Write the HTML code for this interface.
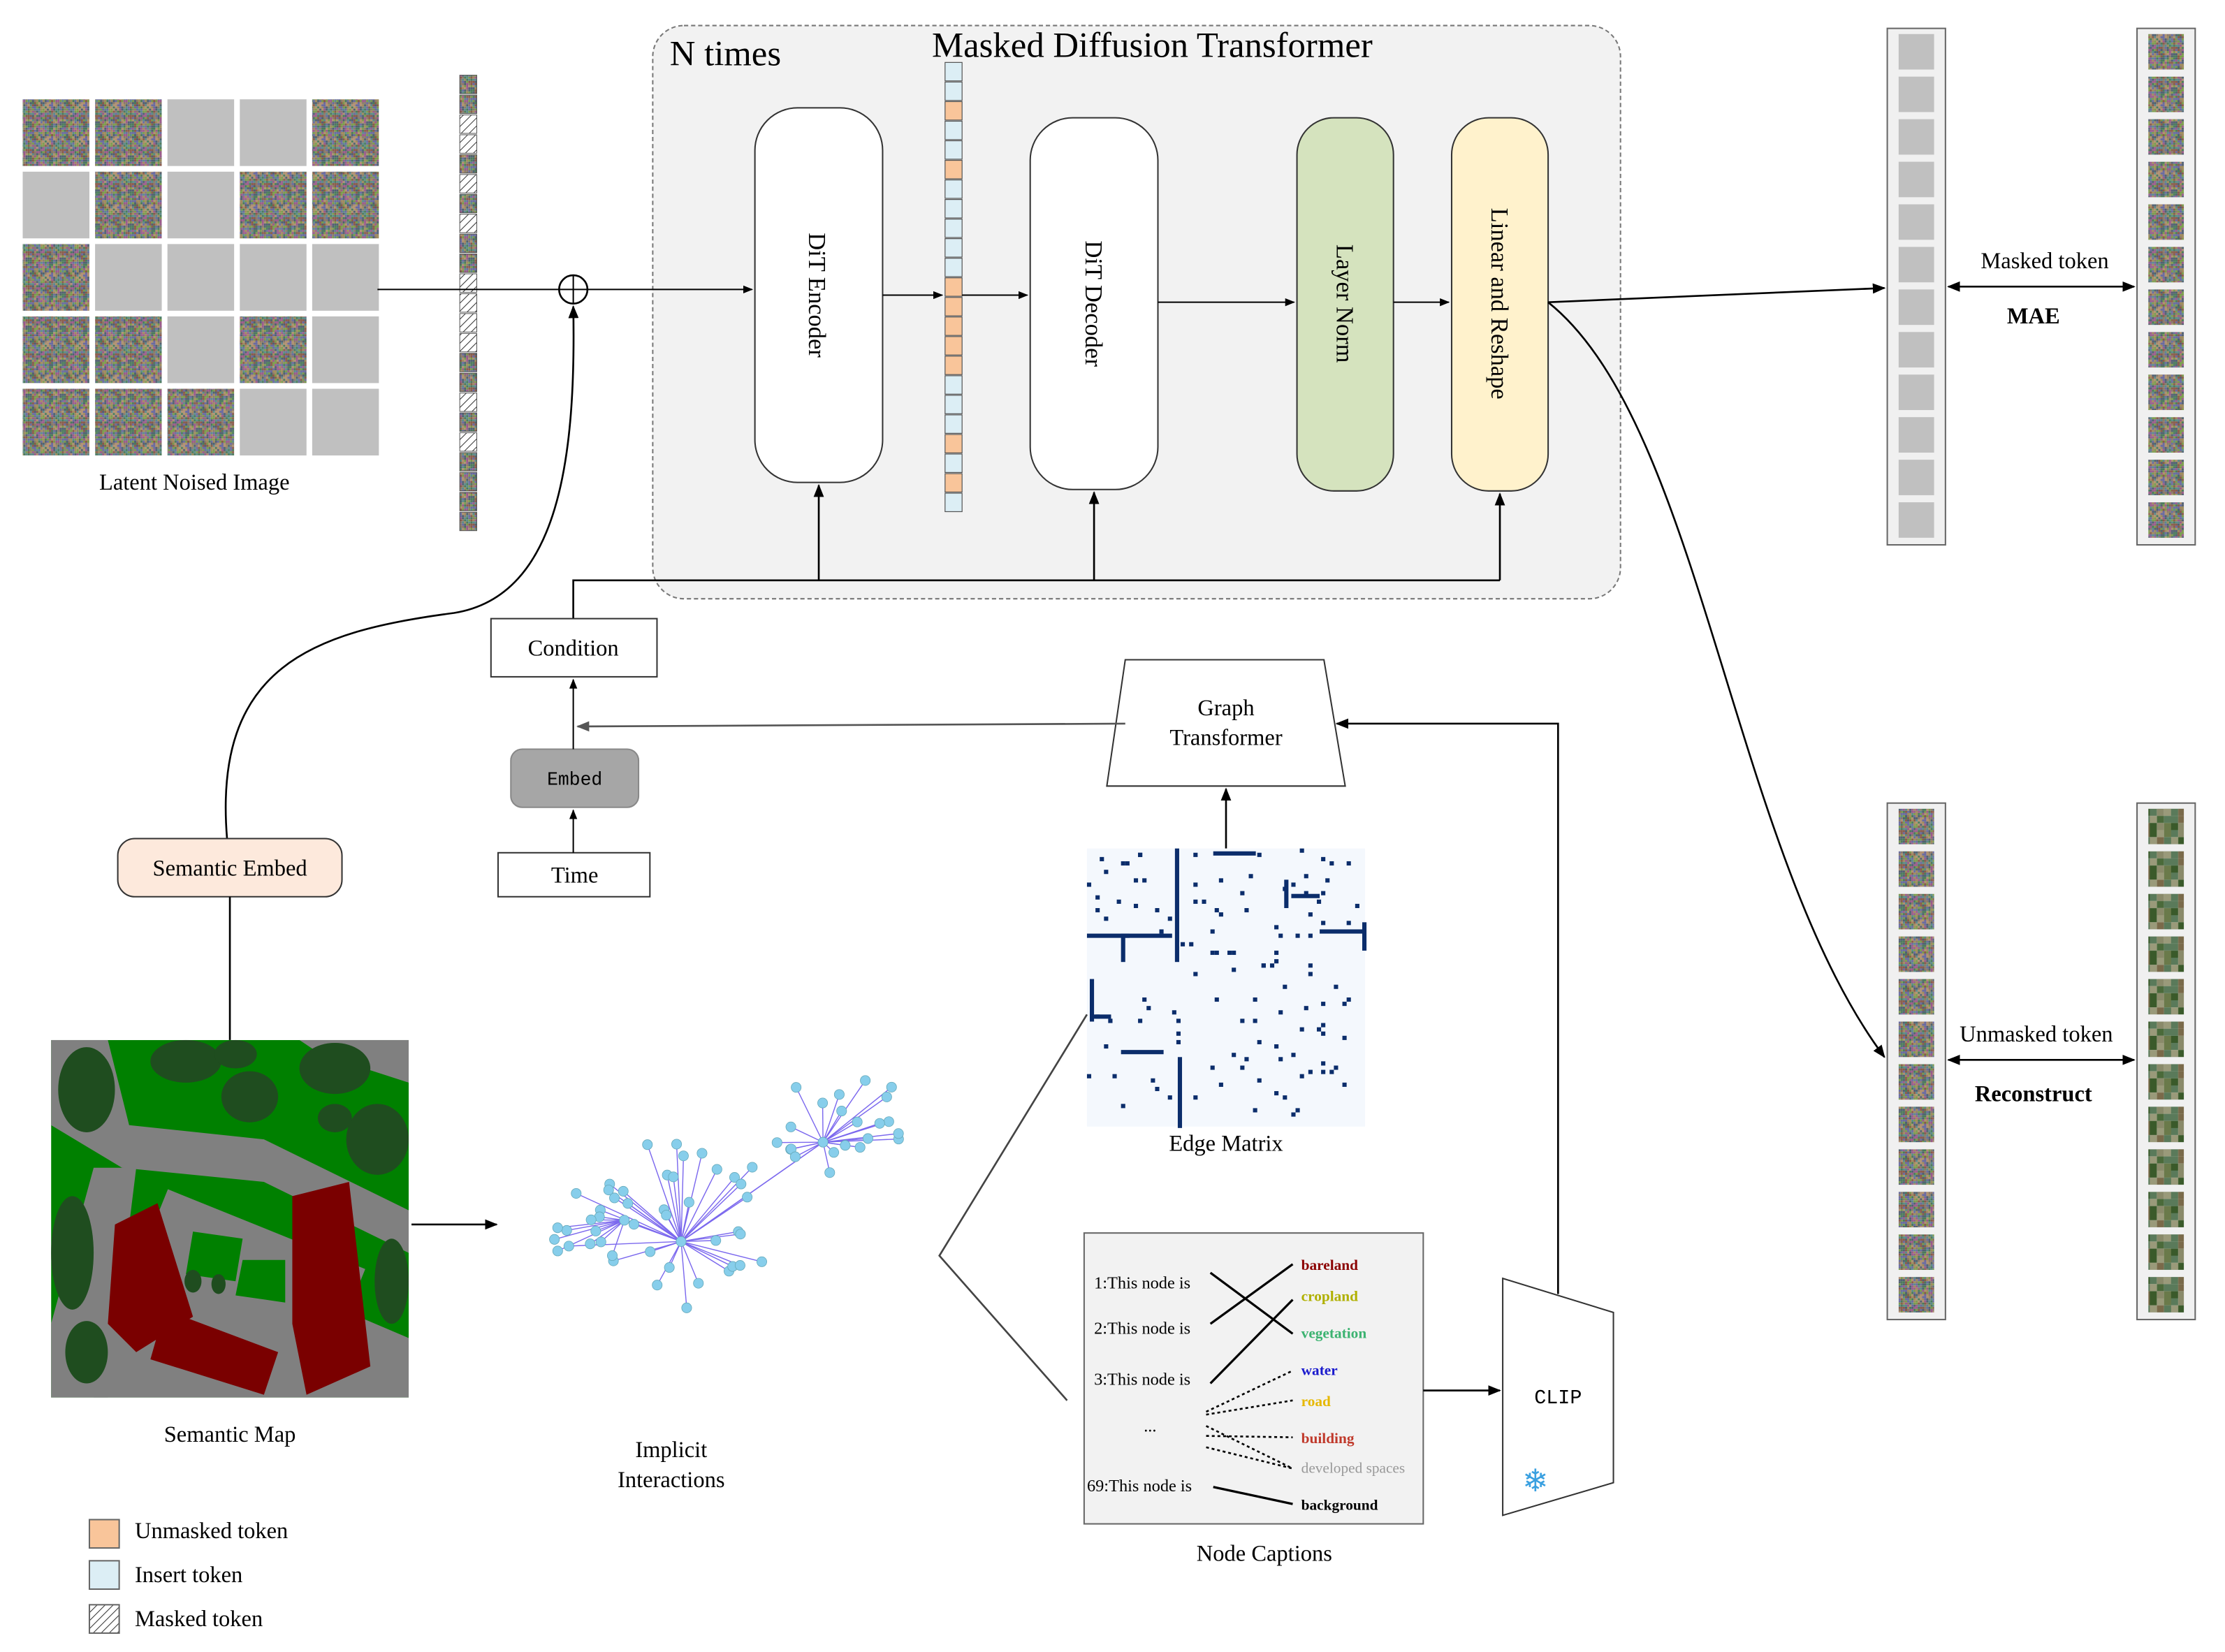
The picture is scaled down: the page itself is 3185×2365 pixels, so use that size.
<!DOCTYPE html>
<html><head><meta charset="utf-8">
<style>
html,body{margin:0;padding:0;background:#fff;}
svg{display:block;}
text{font-family:"Liberation Serif",serif;fill:#000;}
</style></head>
<body>
<svg id="s" xmlns="http://www.w3.org/2000/svg" width="3185" height="2365" viewBox="0 0 1568 1164.3" preserveAspectRatio="xMinYMin meet">
<defs>
<marker id="ar" viewBox="0 0 10 10" refX="9" refY="5" markerWidth="7" markerHeight="7" orient="auto-start-reverse"><path d="M0,1 L10,5 L0,9 z" fill="#000"/></marker>
<marker id="arg" viewBox="0 0 10 10" refX="9" refY="5" markerWidth="7" markerHeight="7" orient="auto"><path d="M0,1 L10,5 L0,9 z" fill="#555"/></marker>
<pattern id="hatch" patternUnits="userSpaceOnUse" width="4" height="4" patternTransform="rotate(45)"><rect width="4" height="4" fill="#fff"/><line x1="0" y1="0" x2="0" y2="4" stroke="#333" stroke-width="1"/></pattern>
</defs>
<rect width="1568" height="1164.3" fill="#fff"/>

<rect x="460" y="18" width="682" height="404" rx="22" fill="#f2f2f2" stroke="#777" stroke-dasharray="3,2"/>
<text x="472" y="46" font-size="25">N times</text>
<text x="812" y="40" font-size="25" text-anchor="middle">Masked Diffusion Transformer</text>

<g id="grid"></g>
<text x="137" y="345" font-size="16" text-anchor="middle">Latent Noised Image</text>
<g id="tok1"></g>

<line x1="266" y1="204" x2="394" y2="204" stroke="#000"/>
<circle cx="404" cy="204" r="10" fill="none" stroke="#000" stroke-width="1.3"/>
<line x1="394" y1="204" x2="414" y2="204" stroke="#000"/><line x1="404" y1="194" x2="404" y2="214" stroke="#000"/>
<line x1="414" y1="204" x2="530" y2="204" stroke="#000" marker-end="url(#ar)"/>

<rect x="532" y="76" width="90" height="264" rx="30" fill="#fff" stroke="#333"/>
<text transform="translate(570,208) rotate(90)" font-size="17" text-anchor="middle">DiT Encoder</text>
<g id="tok2"></g>
<rect x="726" y="83" width="90" height="262" rx="30" fill="#fff" stroke="#333"/>
<text transform="translate(765,214) rotate(90)" font-size="17" text-anchor="middle">DiT Decoder</text>
<rect x="914" y="83" width="68" height="263" rx="26" fill="#d5e3be" stroke="#333"/>
<text transform="translate(942,214) rotate(90)" font-size="17" text-anchor="middle">Layer Norm</text>
<rect x="1023" y="83" width="68" height="263" rx="26" fill="#fff2cc" stroke="#333"/>
<text transform="translate(1051,214) rotate(90)" font-size="17" text-anchor="middle">Linear and Reshape</text>

<line x1="622" y1="208" x2="664" y2="208" stroke="#000" marker-end="url(#ar)"/>
<line x1="678" y1="208" x2="724" y2="208" stroke="#000" marker-end="url(#ar)"/>
<line x1="816" y1="213" x2="912" y2="213" stroke="#000" marker-end="url(#ar)"/>
<line x1="982" y1="213" x2="1021" y2="213" stroke="#000" marker-end="url(#ar)"/>
<line x1="1091" y1="213" x2="1328" y2="203" stroke="#000" stroke-width="1.3" marker-end="url(#ar)"/>
<path d="M1091,213 C1200,300 1220,600 1328,745" fill="none" stroke="#000" stroke-width="1.3" marker-end="url(#ar)"/>

<polyline points="404,436 404,409 1057,409" fill="none" stroke="#000" stroke-width="1.3"/>
<line x1="577" y1="409" x2="577" y2="342" stroke="#000" stroke-width="1.3" marker-end="url(#ar)"/>
<line x1="771" y1="409" x2="771" y2="347" stroke="#000" stroke-width="1.3" marker-end="url(#ar)"/>
<line x1="1057" y1="409" x2="1057" y2="348" stroke="#000" stroke-width="1.3" marker-end="url(#ar)"/>

<rect x="346" y="436" width="117" height="41" fill="#fff" stroke="#333"/>
<text x="404" y="462" font-size="16" text-anchor="middle">Condition</text>
<rect x="360" y="528" width="90" height="41" rx="8" fill="#a6a6a6" stroke="#888"/>
<text x="405" y="553" font-size="13" text-anchor="middle" style="font-family:'Liberation Mono',monospace">Embed</text>
<rect x="351" y="601" width="107" height="31" fill="#fff" stroke="#333"/>
<text x="405" y="622" font-size="16" text-anchor="middle">Time</text>
<line x1="404" y1="601" x2="404" y2="571" stroke="#000" marker-end="url(#ar)"/>
<line x1="404" y1="528" x2="404" y2="479" stroke="#000" marker-end="url(#ar)"/>

<polygon points="793,465 933,465 948,554 780,554" fill="#fff" stroke="#333"/>
<text x="864" y="504" font-size="16" text-anchor="middle">Graph</text>
<text x="864" y="525" font-size="16" text-anchor="middle">Transformer</text>
<line x1="793" y1="510" x2="407" y2="512" stroke="#555" stroke-width="1.3" marker-end="url(#arg)"/>
<line x1="864" y1="598" x2="864" y2="556" stroke="#000" stroke-width="1.3" marker-end="url(#ar)"/>

<rect x="766" y="598" width="196" height="196" fill="#f4f8fd"/>
<g id="mat"></g>
<text x="864" y="811" font-size="16" text-anchor="middle">Edge Matrix</text>

<path d="M160,591 C150,470 220,445 320,432 C395,420 406,320 404,216" fill="none" stroke="#000" stroke-width="1.3" marker-end="url(#ar)"/>
<rect x="83" y="591" width="158" height="41" rx="12" fill="#fde9dc" stroke="#333"/>
<text x="162" y="617" font-size="16" text-anchor="middle">Semantic Embed</text>
<line x1="162" y1="632" x2="162" y2="733" stroke="#000" stroke-width="1.3"/>

<svg x="36" y="733" width="252" height="252" viewBox="0 0 252 252">
<rect width="252" height="252" fill="#008000"/>
<path d="M0,0 L252,0 L252,30 L190,10 L175,0 Z" fill="#808080"/>
<path d="M0,0 L40,0 L55,60 L150,70 L252,120 L252,150 L150,100 L50,90 L0,60 Z" fill="#808080"/>
<path d="M40,120 L252,210 L252,252 L30,252 Z" fill="#808080"/>
<path d="M30,90 L60,90 L40,252 L0,252 L0,200 Z" fill="#808080"/>
<rect x="60" y="130" width="150" height="90" fill="#808080" transform="rotate(22 135 175)"/>
<polygon points="45,130 75,115 100,195 60,220 40,200" fill="#7a0000"/>
<polygon points="80,190 160,220 150,250 70,225" fill="#7a0000"/>
<polygon points="170,110 210,100 225,230 180,250 170,200" fill="#7a0000"/>
<polygon points="100,135 135,140 130,170 95,165" fill="#008000"/>
<polygon points="135,155 165,155 165,185 130,180" fill="#008000"/>
<g fill="#1f4d1f">
<ellipse cx="25" cy="35" rx="20" ry="30"/><ellipse cx="95" cy="15" rx="25" ry="15"/><ellipse cx="140" cy="40" rx="20" ry="18"/>
<ellipse cx="200" cy="20" rx="25" ry="18"/><ellipse cx="230" cy="70" rx="22" ry="25"/><ellipse cx="130" cy="10" rx="15" ry="10"/>
<ellipse cx="15" cy="150" rx="15" ry="40"/><ellipse cx="25" cy="220" rx="15" ry="22"/><ellipse cx="240" cy="170" rx="12" ry="30"/>
<ellipse cx="100" cy="170" rx="6" ry="8"/><ellipse cx="118" cy="172" rx="5" ry="7"/><ellipse cx="200" cy="55" rx="12" ry="10"/>
</g>
</svg>
<text x="162" y="1016" font-size="16" text-anchor="middle">Semantic Map</text>
<line x1="290" y1="863" x2="350" y2="863" stroke="#000" stroke-width="1.3" marker-end="url(#ar)"/>

<g id="graph"></g>
<text x="473" y="1027" font-size="16" text-anchor="middle">Implicit</text>
<text x="473" y="1048" font-size="16" text-anchor="middle">Interactions</text>
<polyline points="766,715 662,885 752,987" fill="none" stroke="#444" stroke-width="1.3"/>

<rect x="764" y="869" width="239" height="205" fill="#f2f2f2" stroke="#666"/>
<g font-size="12">
<text x="771" y="908">1:This node is</text>
<text x="771" y="940">2:This node is</text>
<text x="771" y="976">3:This node is</text>
<text x="806" y="1009">...</text>
<text x="766" y="1051">69:This node is</text>
</g>
<g font-size="10.5" font-weight="bold">
<text x="917" y="895" style="fill:#8b0000">bareland</text>
<text x="917" y="917" style="fill:#b0b000">cropland</text>
<text x="917" y="943" style="fill:#3cb371">vegetation</text>
<text x="917" y="969" style="fill:#1a1acd">water</text>
<text x="917" y="991" style="fill:#e6b800">road</text>
<text x="917" y="1017" style="fill:#c0392b">building</text>
<text x="917" y="1038" style="fill:#999" font-weight="normal">developed spaces</text>
<text x="917" y="1064" style="fill:#000">background</text>
</g>
<g stroke="#000" stroke-width="1.6">
<line x1="853" y1="897" x2="911" y2="940"/>
<line x1="853" y1="933" x2="911" y2="891"/>
<line x1="853" y1="975" x2="911" y2="916"/>
<line x1="855" y1="1048" x2="911" y2="1060"/>
</g>
<g stroke="#000" stroke-width="1.3" stroke-dasharray="2,2">
<line x1="850" y1="995" x2="911" y2="966"/>
<line x1="850" y1="997" x2="911" y2="987"/>
<line x1="850" y1="1012" x2="911" y2="1013"/>
<line x1="850" y1="1020" x2="911" y2="1035"/>
<line x1="850" y1="1005" x2="911" y2="1035"/>
</g>
<text x="891" y="1100" font-size="16" text-anchor="middle">Node Captions</text>
<line x1="1003" y1="980" x2="1057" y2="980" stroke="#000" stroke-width="1.3" marker-end="url(#ar)"/>

<polygon points="1059,901 1137,925 1137,1045 1059,1068" fill="#fff" stroke="#333"/>
<text x="1098" y="989" font-size="14" text-anchor="middle" style="font-family:'Liberation Mono',monospace">CLIP</text>
<text x="1082" y="1051" font-size="22" text-anchor="middle" style="fill:#3aa0e0;font-family:'DejaVu Sans',sans-serif">❄</text>
<polyline points="1098,912 1098,510 942,510" fill="none" stroke="#000" stroke-width="1.3" marker-end="url(#ar)"/>

<rect x="1330" y="20" width="41" height="364" fill="#f0f0f0" stroke="#666"/>
<rect x="1506" y="20" width="41" height="364" fill="#f0f0f0" stroke="#666"/>
<rect x="1330" y="566" width="41" height="364" fill="#f0f0f0" stroke="#666"/>
<rect x="1506" y="566" width="41" height="364" fill="#f0f0f0" stroke="#666"/>
<g id="cols"></g>
<line x1="1373" y1="202" x2="1504" y2="202" stroke="#000" stroke-width="1.3" marker-start="url(#ar)" marker-end="url(#ar)"/>
<text x="1441" y="189" font-size="16" text-anchor="middle">Masked token</text>
<text x="1433" y="228" font-size="16" font-weight="bold" text-anchor="middle">MAE</text>
<line x1="1373" y1="747" x2="1504" y2="747" stroke="#000" stroke-width="1.3" marker-start="url(#ar)" marker-end="url(#ar)"/>
<text x="1435" y="734" font-size="16" text-anchor="middle">Unmasked token</text>
<text x="1433" y="776" font-size="16" font-weight="bold" text-anchor="middle">Reconstruct</text>

<rect x="63" y="1071" width="21" height="20" fill="#f9c59a" stroke="#666"/>
<text x="95" y="1084" font-size="16">Unmasked token</text>
<rect x="63" y="1100" width="21" height="20" fill="#dceef5" stroke="#666"/>
<text x="95" y="1115" font-size="16">Insert token</text>
<rect x="63" y="1131" width="21" height="20" fill="url(#hatch)" stroke="#666"/>
<text x="95" y="1146" font-size="16">Masked token</text>
</svg>
<script>
(function(){
var NS="http://www.w3.org/2000/svg";
var seed=7;function r(){seed=(seed*16807)%2147483647;return (seed-1)/2147483646;}
function el(t,a,p){var e=document.createElementNS(NS,t);for(var k in a)e.setAttribute(k,a[k]);p.appendChild(e);return e;}
var defs=document.querySelector("defs");
var pal=["#8a5a4a","#4a7a5a","#6a6aa0","#a08a5a","#5a8a8a","#9a5a8a","#7a9a4a","#8a7a6a","#b09070","#506070"];
var p=el("pattern",{id:"noise",patternUnits:"userSpaceOnUse",width:24,height:24},defs);
for(var i=0;i<16;i++)for(var j=0;j<16;j++)el("rect",{x:i*1.5,y:j*1.5,width:1.5,height:1.5,fill:pal[Math.floor(r()*pal.length)]},p);
var gp=["#4a6a3a","#6a7a4a","#8a8a6a","#3a5a2a","#7a6a4a","#5a7a5a","#9a9a7a"];
var p2=el("pattern",{id:"real",patternUnits:"userSpaceOnUse",width:30,height:30},defs);
for(var i=0;i<6;i++)for(var j=0;j<6;j++)el("rect",{x:i*5,y:j*5,width:5,height:5,fill:gp[Math.floor(r()*gp.length)]},p2);
var g=document.getElementById("grid");
var M=["NNGGN","GNGNN","NGGGG","NNGNG","NNNGG"];
for(var a=0;a<5;a++)for(var b=0;b<5;b++){el("rect",{x:16+b*51,y:70+a*51,width:47,height:47,fill:M[a][b]=="N"?"url(#noise)":"#c0c0c0"},g);}
var t1=document.getElementById("tok1");
var seq="NNHHNHNHNNHHHHNNHNHNNNN";
for(var i=0;i<23;i++){el("rect",{x:324,y:53+i*14,width:12,height:13,fill:seq[i]=="N"?"url(#noise)":"url(#hatch)",stroke:"#555","stroke-width":0.5},t1);}
var t2=document.getElementById("tok2");
var s2="BBOBBOBBBBBOOOOOBBBOBOBB";
for(var i=0;i<23;i++){el("rect",{x:666,y:44+i*13.8,width:12,height:13,fill:s2[i]=="O"?"#f9c59a":"#dceef5",stroke:"#555","stroke-width":0.6},t2);}
var c=document.getElementById("cols");
for(var i=0;i<12;i++){
el("rect",{x:1338,y:24+i*30,width:25,height:25,fill:"#c0c0c0"},c);
el("rect",{x:1514,y:24+i*30,width:25,height:25,fill:"url(#noise)"},c);
el("rect",{x:1338,y:570+i*30,width:25,height:25,fill:"url(#noise)"},c);
el("rect",{x:1514,y:570+i*30,width:25,height:25,fill:"url(#real)"},c);
}
var m=document.getElementById("mat");
var segs=[[855,600,30,3],[828,598,3,80],[766,658,60,3],[790,658,3,20],[905,620,3,20],[910,630,20,3],[768,690,3,30],[768,715,15,3],[790,740,30,3],[830,745,3,50],[930,655,30,3],[960,650,3,20]];
segs.forEach(function(s){el("rect",{x:s[0],y:s[1],width:s[2],height:s[3],fill:"#0b2d6b"},m);});
for(var i=0;i<120;i++){el("rect",{x:766+Math.floor(r()*64)*3,y:598+Math.floor(r()*64)*3,width:3,height:3,fill:"#0b2d6b"},m);}
var gr=document.getElementById("graph");
var hubs=[[480,875],[580,805],[440,860]];
var nodes=[];
for(var i=0;i<36;i++){var a=r()*6.28,d=20+r()*60;nodes.push([480+Math.cos(a)*d*1.1,875+Math.sin(a)*d*0.9,0]);}
for(var i=0;i<22;i++){var a=r()*6.28,d=12+r()*38;nodes.push([590+Math.cos(a)*d,795+Math.sin(a)*d,1]);}
for(var i=0;i<10;i++){nodes.push([385+r()*50,855+r()*30,2]);}
nodes.forEach(function(n){var h=n[2]==1?hubs[1]:(n[2]==2?hubs[2]:hubs[0]);el("line",{x1:h[0],y1:h[1],x2:n[0],y2:n[1],stroke:"#7b68ee","stroke-width":0.7},gr);});
el("line",{x1:480,y1:875,x2:580,y2:805,stroke:"#7b68ee","stroke-width":0.8},gr);
nodes.concat(hubs.map(function(h){return [h[0],h[1]];})).forEach(function(n){el("circle",{cx:n[0],cy:n[1],r:3.5,fill:"#87ceeb",stroke:"#6ab","stroke-width":0.4},gr);});
})();
</script>
</body></html>
